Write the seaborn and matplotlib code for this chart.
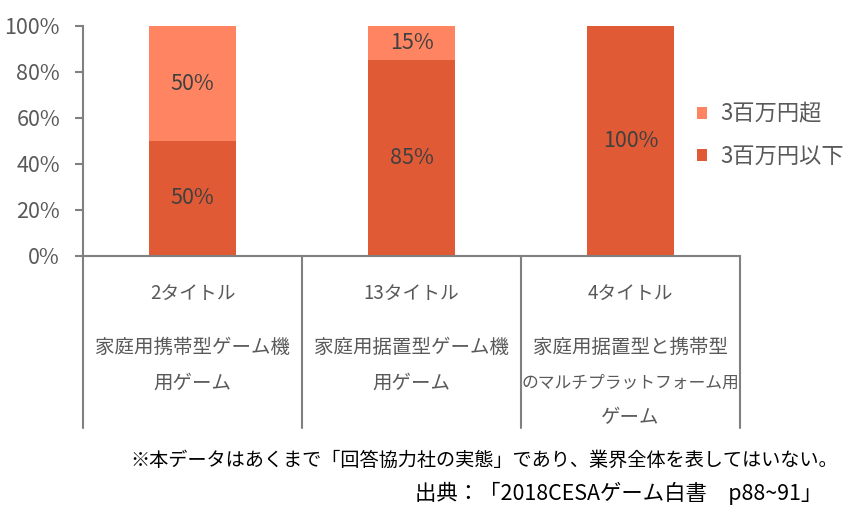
import matplotlib
matplotlib.use("Agg")
import matplotlib.pyplot as plt
import matplotlib.transforms as mtransforms
from matplotlib.patches import Patch
import seaborn as sns
import pandas as pd

categories = ["A", "B", "C"]
title_counts = ["2タイトル", "13タイトル", "4タイトル"]
category_names = [["家庭用携帯型ゲーム機", "用ゲーム"],
                  ["家庭用据置型ゲーム機", "用ゲーム"],
                  ["家庭用据置型と携帯型", "のマルチプラットフォーム用", "ゲーム"]]
below_3m = [50, 85, 100]
above_3m = [50, 15, 0]
series_names = ["3百万円以下", "3百万円超"]
yticks = [0, 20, 40, 60, 80, 100]
note = "※本データはあくまで「回答協力社の実態」であり、業界全体を表してはいない。"
source = "出典：「2018CESAゲーム白書　p88~91」"

sns.set_theme(style="white")
plt.rcParams["font.family"] = ["Noto Sans CJK JP", "DejaVu Sans"]

dark = "#E05A35"
light = "#FF8562"
grey = "#808080"
txt = "#595959"
lbl = "#404040"

fig = plt.figure(figsize=(8.58, 5.19), dpi=100)
ax = fig.add_axes([83/858, 1-256/519, (740-83)/858, 230/519])

df = pd.DataFrame({"cat": categories,
                   "total": [b + a for b, a in zip(below_3m, above_3m)],
                   "below": below_3m})
sns.barplot(data=df, x="cat", y="total", color=light, width=0.4, ax=ax,
            saturation=1, linewidth=0)
sns.barplot(data=df, x="cat", y="below", color=dark, width=0.4, ax=ax,
            saturation=1, linewidth=0)

for i, (b, a) in enumerate(zip(below_3m, above_3m)):
    if b > 0:
        ax.text(i, b / 2, f"{b}%", ha="center", va="center", fontsize=15.5, color=lbl)
    if a > 0:
        ax.text(i, b + a / 2, f"{a}%", ha="center", va="center", fontsize=15.5, color=lbl)

ax.set_xlim(-0.5, len(categories) - 0.5)
ax.set_ylim(0, 100)
ax.set_yticks(yticks)
ax.set_yticklabels([f"{v}%" for v in yticks], fontsize=15.5, color=txt)
ax.set_xticks([])
ax.set_xlabel("")
ax.set_ylabel("")
for s in ["top", "right"]:
    ax.spines[s].set_visible(False)
for s in ["left", "bottom"]:
    ax.spines[s].set_color(grey)
    ax.spines[s].set_linewidth(1.5)
ax.spines["left"].set_bounds(0, 100)
ax.tick_params(axis="y", which="major", direction="out", length=5.5, width=1.5,
               color=grey, left=True, pad=11)

# separators extending below the axis
sep_bottom = -(428 - 256) / 230
for xb in [-0.5, 0.5, 1.5, 2.5]:
    ax.axvline(xb, ymin=sep_bottom, ymax=0, color=grey, lw=1.5, clip_on=False)

trans = mtransforms.blended_transform_factory(ax.transData, fig.transFigure)
line_y = [293, 347, 383, 418]
for i, (tc, names) in enumerate(zip(title_counts, category_names)):
    ax.text(i, 1 - line_y[0] / 519, tc, transform=trans, ha="center", va="center",
            fontsize=13.5, color=txt)
    for j, nm in enumerate(names):
        fs = 14 if len(nm) <= 10 else 12.1
        ax.text(i, 1 - line_y[j + 1] / 519, nm, transform=trans, ha="center",
                va="center", fontsize=fs, color=txt)

handles = [Patch(facecolor=light, edgecolor="none", label=series_names[1]),
           Patch(facecolor=dark, edgecolor="none", label=series_names[0])]
fig.legend(handles=handles, loc="center left", bbox_to_anchor=(697/858, 1-135/519),
           frameon=False, fontsize=16, labelcolor=txt, handlelength=0.45,
           handleheight=0.45, handletextpad=0.6, labelspacing=0.85,
           borderpad=0, borderaxespad=0)

fig.text(838/858, 1-460/519, note, ha="right", va="center", fontsize=13.8, color="black")
fig.text(822/858, 1-493/519, source, ha="right", va="center", fontsize=15.4, color="black")

fig.savefig("out.png", dpi=100)
